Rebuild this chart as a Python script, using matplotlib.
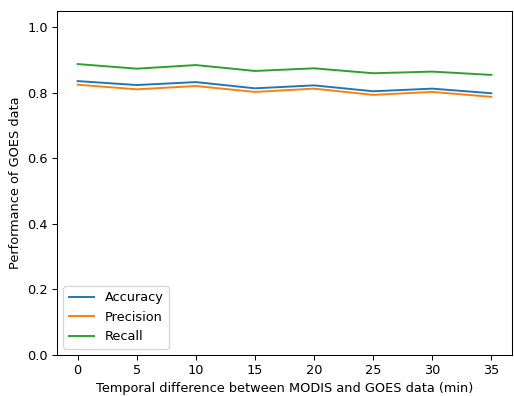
import matplotlib
matplotlib.use("Agg")
import matplotlib.pyplot as plt

minutes = [0, 5, 10, 15, 20, 25, 30, 35]
accuracy = [0.836, 0.824, 0.833, 0.814, 0.823, 0.805, 0.813, 0.799]
precision = [0.825, 0.811, 0.821, 0.803, 0.813, 0.794, 0.803, 0.788]
recall = [0.888, 0.874, 0.885, 0.867, 0.875, 0.860, 0.865, 0.855]

DPI = 93
fig = plt.figure(figsize=(514 / DPI, 396 / DPI), dpi=DPI)
ax = fig.add_axes([57/514, 1 - 355/396, (512-57)/514, (355-11)/396])
ax.plot(minutes, accuracy, label="Accuracy")
ax.plot(minutes, precision, label="Precision")
ax.plot(minutes, recall, label="Recall")
ax.set_ylim(0, 1.05)
ax.set_xticks(minutes)
ax.set_xlabel("Temporal difference between MODIS and GOES data (min)")
ax.set_ylabel("Performance of GOES data")
ax.legend(loc="lower left")
fig.savefig("out.png", dpi=DPI)
